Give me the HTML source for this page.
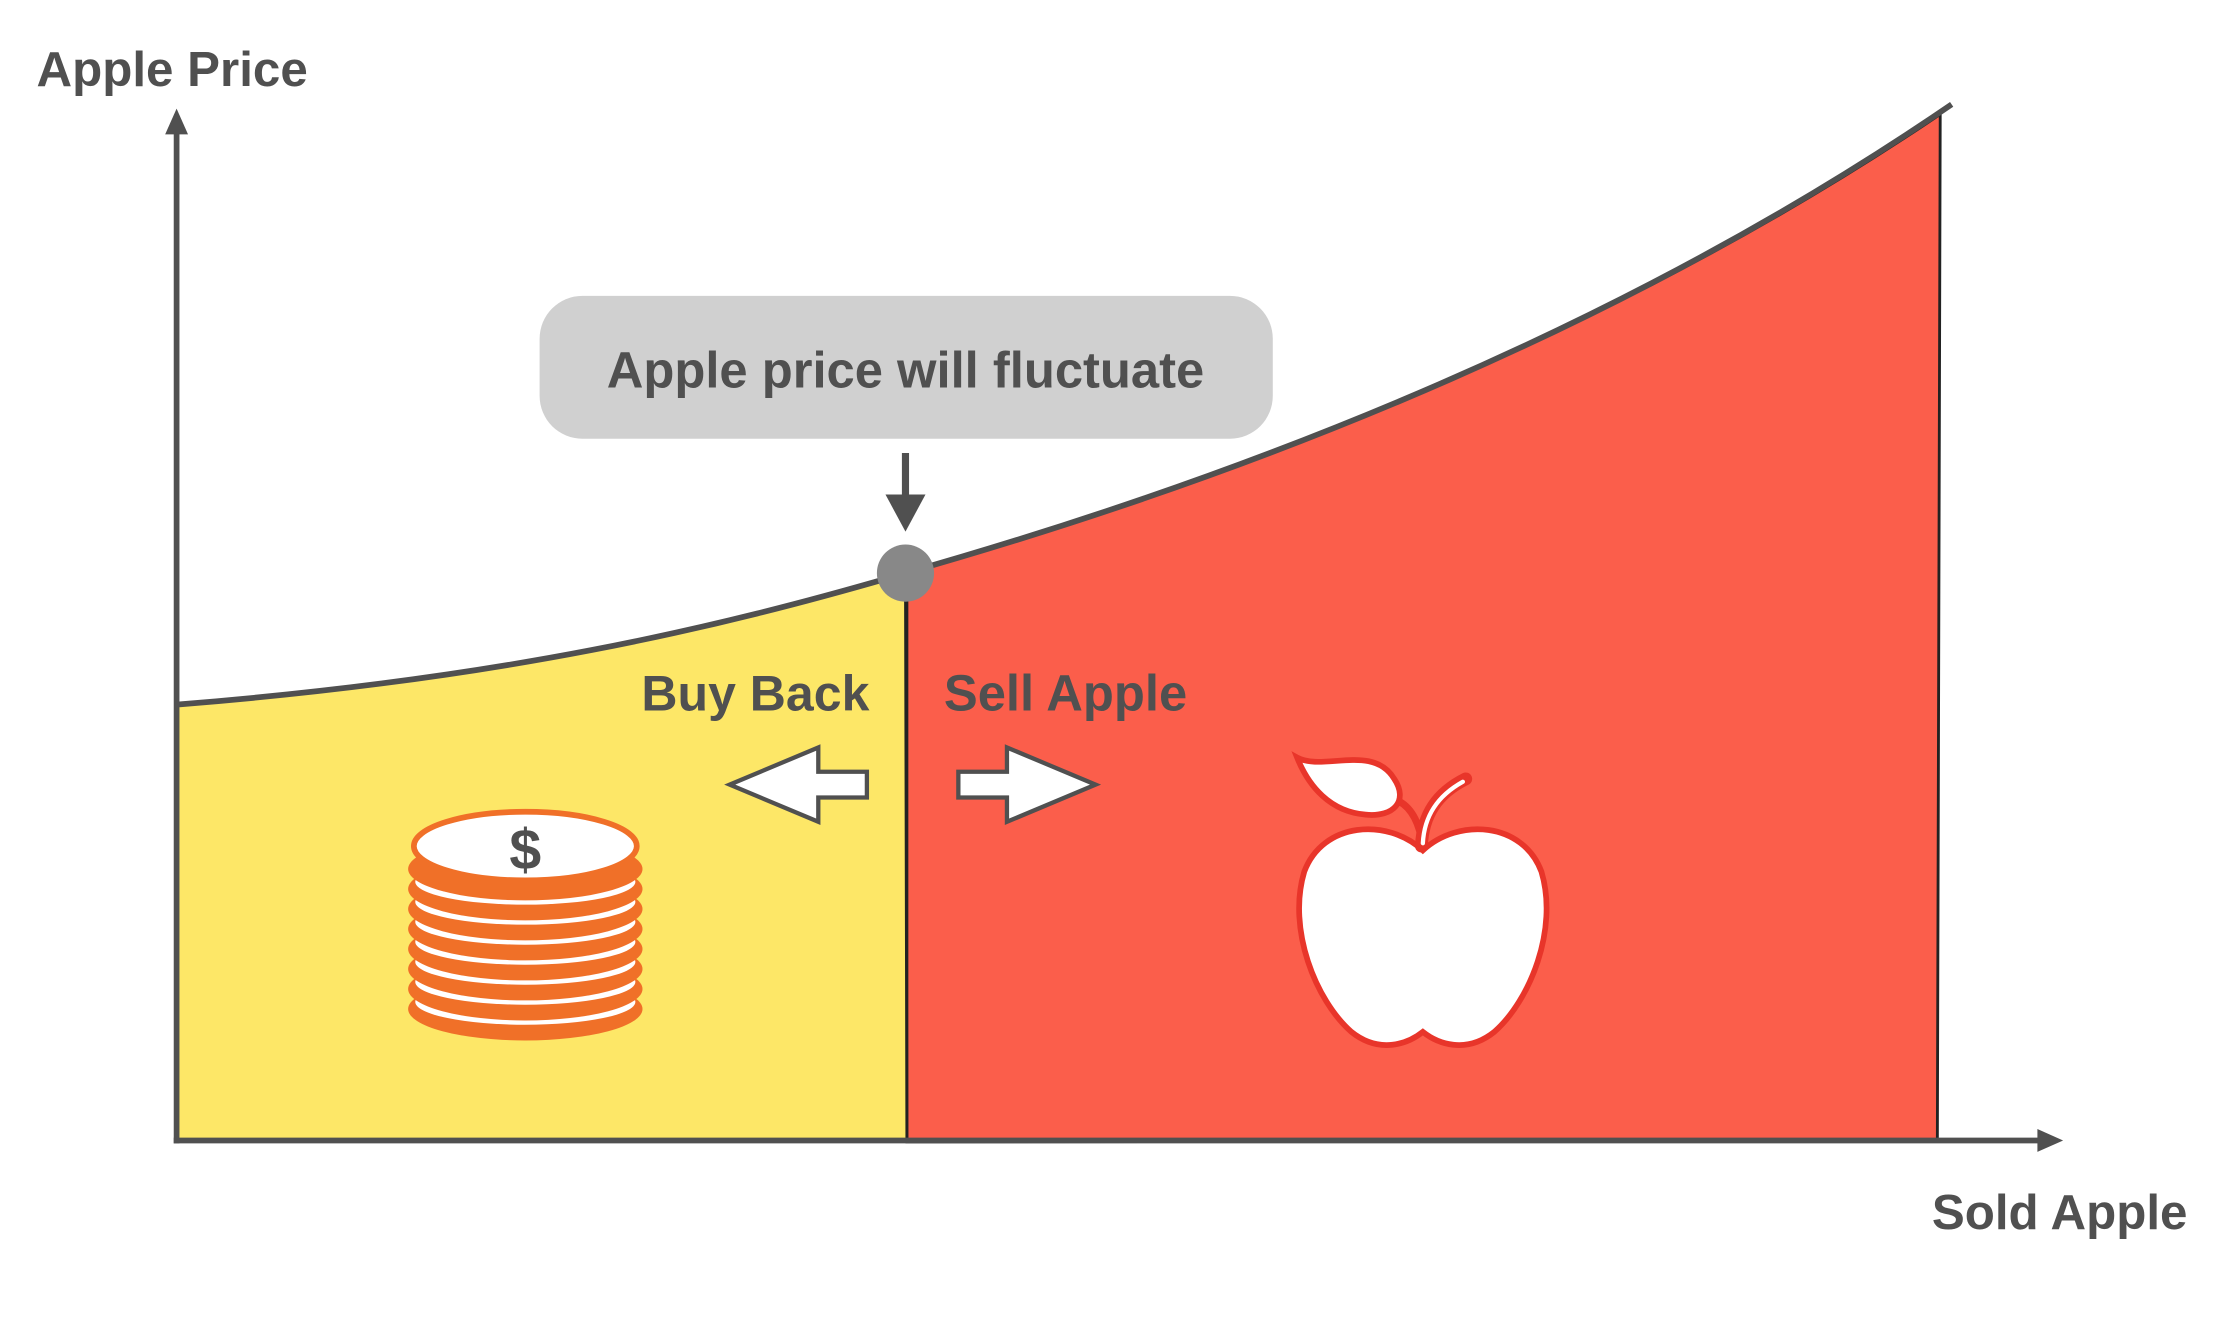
<!DOCTYPE html>
<html><head><meta charset="utf-8"><style>
html,body{margin:0;padding:0;background:#fff;}
svg{display:block;}
text{font-family:"Liberation Sans",sans-serif;font-weight:bold;fill:#505050;}
</style></head><body>
<svg width="2234" height="1322" viewBox="0 0 1562 925" xmlns="http://www.w3.org/2000/svg">
<rect width="1562" height="925" fill="#fff"/>
<path d="M123,493 C350,475 500,440 633,401 L634,798 L123,798 Z" fill="#FDE767"/>
<path d="M633,401 C900,325 1150,220 1357,80 L1355,798 L634,799 Z" fill="#FB5E4B" stroke="#222" stroke-width="2"/>
<line x1="634" y1="401" x2="634" y2="799" stroke="#222" stroke-width="2"/>
<path d="M123,493 C350,475 500,440 633,401 C900,325 1150,220 1365,73" fill="none" stroke="#505050" stroke-width="4"/>
<line x1="123" y1="800" x2="123" y2="90" stroke="#505050" stroke-width="4"/>
<polygon points="123,76 115,94 131,94" fill="#505050"/>
<line x1="121" y1="798" x2="1428" y2="798" stroke="#505050" stroke-width="4"/>
<polygon points="1443,798 1425,790 1425,806" fill="#505050"/>
<text x="25" y="60" font-size="34.5">Apple Price</text>
<text x="1530" y="860" font-size="34.5" text-anchor="end">Sold Apple</text>
<rect x="377" y="207" width="513" height="100" rx="30" fill="#d0d0d0"/>
<text x="633" y="271" font-size="35.5" text-anchor="middle">Apple price will fluctuate</text>
<line x1="633" y1="317" x2="633" y2="350" stroke="#505050" stroke-width="5"/>
<polygon points="619,346 647,346 633,372" fill="#505050"/>
<circle cx="633" cy="401" r="20" fill="#888"/>
<text x="528" y="497" font-size="35" text-anchor="middle">Buy Back</text>
<text x="745" y="497" font-size="35.5" text-anchor="middle">Sell Apple</text>
<polygon points="510,549 572,523 572,540 606,540 606,558 572,558 572,575" fill="#fff" stroke="#505050" stroke-width="3"/>
<polygon points="766,549 704,523 704,540 670,540 670,558 704,558 704,575" fill="#fff" stroke="#505050" stroke-width="3"/>
<g>
<ellipse cx="367" cy="706" rx="82" ry="22" fill="#F07028"/><ellipse cx="367" cy="701" rx="77" ry="16" fill="#fff"/>
<ellipse cx="367" cy="692" rx="82" ry="22" fill="#F07028"/><ellipse cx="367" cy="687" rx="77" ry="16" fill="#fff"/>
<ellipse cx="367" cy="678" rx="82" ry="22" fill="#F07028"/><ellipse cx="367" cy="673" rx="77" ry="16" fill="#fff"/>
<ellipse cx="367" cy="664" rx="82" ry="22" fill="#F07028"/><ellipse cx="367" cy="659" rx="77" ry="16" fill="#fff"/>
<ellipse cx="367" cy="650" rx="82" ry="22" fill="#F07028"/><ellipse cx="367" cy="645" rx="77" ry="16" fill="#fff"/>
<ellipse cx="367" cy="636" rx="82" ry="22" fill="#F07028"/><ellipse cx="367" cy="631" rx="77" ry="16" fill="#fff"/>
<ellipse cx="367" cy="622" rx="82" ry="22" fill="#F07028"/><ellipse cx="367" cy="617" rx="77" ry="16" fill="#fff"/>
<ellipse cx="367" cy="608" rx="82" ry="22" fill="#F07028"/>
<ellipse cx="367" cy="592" rx="78" ry="24" fill="#fff" stroke="#F07028" stroke-width="4"/>
<text x="367" y="608" font-size="40" text-anchor="middle">$</text>
</g>
<path d="M995,595 C970,572 925,575 912,610 C900,650 920,700 945,722 C965,738 985,730 995,722 C1005,730 1025,738 1045,722 C1070,700 1090,650 1078,610 C1065,575 1020,572 995,595 Z" fill="#fff" stroke="#E8352A" stroke-width="4"/>
<path d="M907,530 C925,540 960,520 975,545 C985,560 975,572 955,570 C930,568 915,550 907,530 Z" fill="#fff" stroke="#E8352A" stroke-width="4"/>
<path d="M977,560 C988,565 993,578 995,592" fill="none" stroke="#E8352A" stroke-width="5"/>
<path d="M994,592 C995,570 1005,555 1025,545" fill="none" stroke="#E8352A" stroke-width="9" stroke-linecap="round"/>
<path d="M995,590 C996,571 1005,557 1023,547" fill="none" stroke="#fff" stroke-width="3" stroke-linecap="round"/>
</svg>
</body></html>
